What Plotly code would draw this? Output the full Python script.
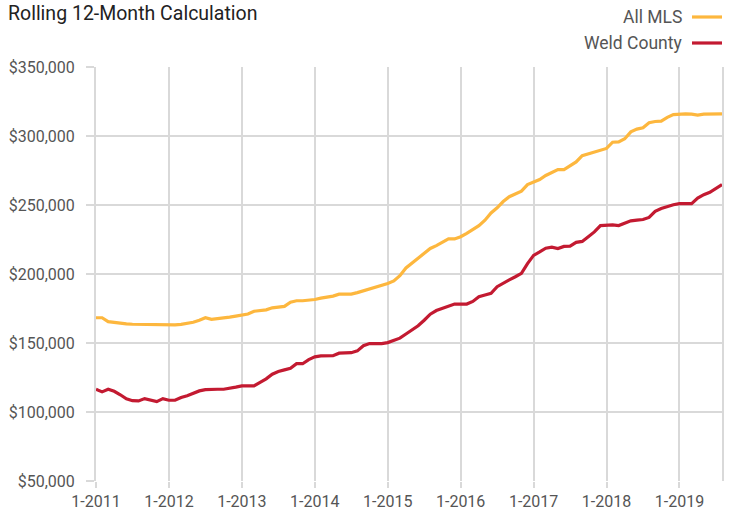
import plotly.graph_objects as go

# ---- data (thousands of dollars, monthly Jan-2011 .. Aug-2019) ----
tick_labels = ["1-2011", "1-2012", "1-2013", "1-2014", "1-2015",
               "1-2016", "1-2017", "1-2018", "1-2019"]

all_mls = [168.3, 168.3, 165.5, 164.8, 164.3, 163.8, 163.6, 163.5, 163.4, 163.3, 163.2, 163.0,
           162.8, 163.2, 163.5, 164.3, 165.0, 166.5, 168.3, 167.1, 167.5, 168.2, 168.8, 169.5,
           170.5, 171.0, 173.0, 173.5, 174.0, 175.5, 176.0, 176.5, 179.6, 180.6, 180.6, 180.8,
           181.5, 182.5, 183.0, 184.0, 185.4, 185.4, 185.4, 186.5, 187.8, 189.0, 190.5, 192.0,
           193.1, 195.0, 198.8, 204.4, 208.0, 211.0, 215.0, 218.5, 220.6, 222.8, 225.4, 225.4,
           227.0, 229.5, 232.0, 235.0, 239.0, 244.2, 248.0, 252.5, 256.0, 258.0, 260.0, 264.8,
           266.5, 268.5, 271.4, 273.5, 275.7, 275.7, 278.5, 281.2, 285.8, 287.0, 288.5, 290.0,
           291.0, 295.5, 295.7, 298.0, 303.0, 305.0, 306.0, 309.6, 310.5, 310.8, 313.5, 315.5,
           316.0, 316.0, 315.8, 315.2, 315.8, 316.0, 316.0, 316.0]

weld_county = [116.5, 114.6, 116.5, 115.0, 112.5, 109.5, 108.2, 108.0, 109.7, 108.5, 107.5, 109.7,
               108.5, 108.5, 110.5, 111.8, 113.5, 115.3, 116.2, 116.5, 116.5, 116.5, 117.5, 118.0,
               118.9, 118.9, 119.0, 121.5, 124.0, 127.4, 129.3, 130.5, 131.7, 135.0, 135.0, 138.0,
               140.0, 140.6, 140.6, 140.8, 142.6, 142.6, 143.0, 144.3, 148.0, 149.6, 149.6, 149.6,
               150.3, 151.8, 153.5, 156.5, 159.5, 162.5, 166.5, 170.9, 173.5, 175.0, 176.3, 178.2,
               178.2, 178.2, 180.1, 183.5, 184.8, 186.0, 190.8, 193.5, 195.8, 198.0, 200.5, 207.5,
               213.5, 216.0, 218.7, 219.5, 218.5, 220.0, 220.2, 222.9, 223.6, 227.0, 230.5, 235.1,
               235.6, 235.6, 235.1, 236.5, 238.5, 239.0, 239.5, 241.0, 245.4, 247.5, 249.1, 250.2,
               251.0, 251.0, 251.0, 255.0, 257.5, 259.2, 262.0, 264.8]

months = list(range(len(all_mls)))
all_mls_usd = [v * 1000 for v in all_mls]
weld_usd = [v * 1000 for v in weld_county]

ORANGE = "#FDB73E"
RED = "#C31A31"
GRID = "#D9D9D9"
TEXT = "#555555"

W, H = 732, 515
PL, PR, PT, PB = 96, 10, 67, 34
PLOT_H = H - PT - PB

fig = go.Figure()
fig.add_trace(go.Scatter(x=months, y=all_mls_usd, mode="lines", name="All MLS",
                         line=dict(color=ORANGE, width=3.2), showlegend=False))
fig.add_trace(go.Scatter(x=months, y=weld_usd, mode="lines", name="Weld County",
                         line=dict(color=RED, width=3.2), showlegend=False))

fig.update_layout(
    width=W, height=H,
    margin=dict(l=PL, r=PR, t=PT, b=PB, autoexpand=False),
    paper_bgcolor="white", plot_bgcolor="white",
    font=dict(family="Roboto", color=TEXT, size=16),
    title=dict(text="Rolling 12-Month Calculation", x=8 / W, xref="container", xanchor="left",
               y=1 - 13 / H, yref="container", yanchor="middle", pad=dict(l=0, t=0),
               font=dict(family="Roboto", size=19.5, color="#222222")),
    xaxis=dict(range=[0, len(months) - 1], tickmode="array",
               tickvals=[12 * i for i in range(len(tick_labels))], ticktext=tick_labels,
               showgrid=True, gridcolor=GRID, gridwidth=2, zeroline=False,
               ticks="outside", ticklen=6, tickwidth=2, tickcolor=GRID,
               tickfont=dict(size=16, color=TEXT), showline=False, automargin=False),
    yaxis=dict(range=[50000, 350000], tickmode="array",
               tickvals=[50000 * i for i in range(1, 8)],
               ticktext=["$50,000", "$100,000", "$150,000", "$200,000", "$250,000", "$300,000", "$350,000"],
               showgrid=True, gridcolor=GRID, gridwidth=2, zeroline=False,
               ticks="outside", ticklen=8, tickwidth=2, tickcolor=GRID,
               tickfont=dict(size=16, color=TEXT), ticklabelstandoff=8,
               showline=True, mirror=True, linecolor=GRID, linewidth=2, automargin=False),
)

# custom legend (text left of line sample, top right); positions in page pixels
def px(xw):
    return (xw - PL) / (W - PL - PR)

def py(yw):
    return (H - PB - yw) / PLOT_H

legend_items = [("All MLS", ORANGE, 17), ("Weld County", RED, 43)]
for name, color, ypix in legend_items:
    fig.add_annotation(text=name, xref="paper", yref="paper",
                       x=px(684), y=py(ypix), xanchor="right", yanchor="middle",
                       showarrow=False, font=dict(family="Roboto", size=17.5, color=TEXT))
    fig.add_shape(type="line", xref="paper", yref="paper",
                  x0=px(692), x1=px(722), y0=py(ypix), y1=py(ypix),
                  line=dict(color=color, width=3.2))

fig.write_html("out.html", config={"displayModeBar": False},
               post_script="document.body.style.margin='0px';")
